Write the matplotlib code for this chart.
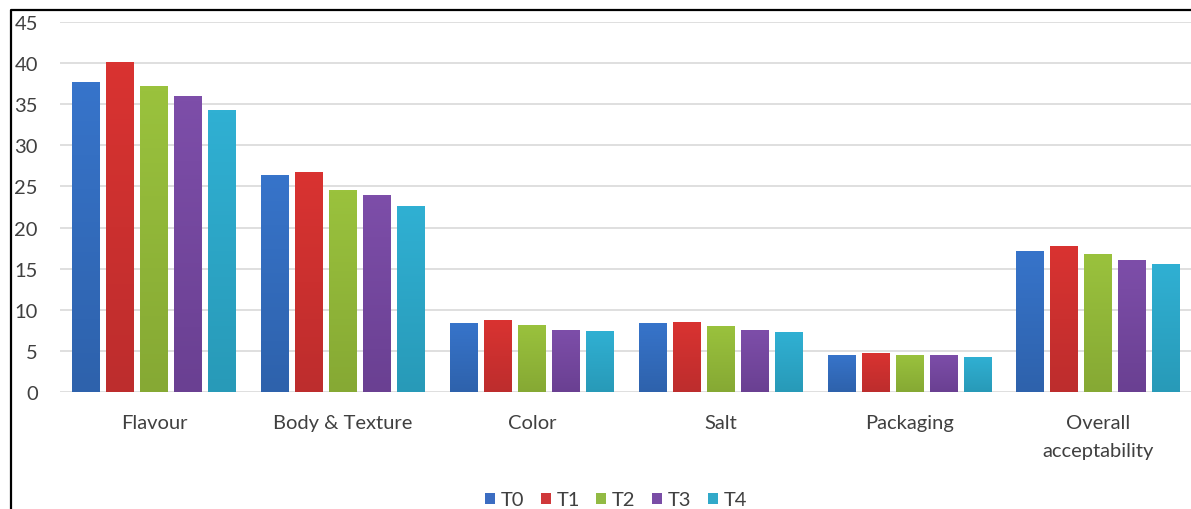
#!/usr/bin/env python3
"""Grouped bar chart of sensory scores per treatment (T0-T4)."""

import matplotlib

matplotlib.use("Agg")
import matplotlib.pyplot as plt
import numpy as np
from matplotlib.colors import LinearSegmentedColormap
from matplotlib.lines import Line2D
from matplotlib.patches import Patch


categories = ["Flavour", "Body & Texture", "Color", "Salt", "Packaging", "Overall\nacceptability"]
treatments = ["T0", "T1", "T2", "T3", "T4"]
t0 = [37.7, 26.4, 8.35, 8.35, 4.55, 17.2]
t1 = [40.1, 26.8, 8.75, 8.55, 4.8, 17.8]
t2 = [37.2, 24.6, 8.2, 8.05, 4.55, 16.8]
t3 = [36.0, 24.0, 7.5, 7.5, 4.55, 16.05]
t4 = [34.3, 22.6, 7.45, 7.25, 4.3, 15.6]
yticks = [0, 5, 10, 15, 20, 25, 30, 35, 40, 45]

series = [t0, t1, t2, t3, t4]
# (top colour, bottom colour) for a soft Excel-like gradient fill
fills = [
    ("#3774CA", "#2E62AC"),
    ("#D93331", "#BD2D2D"),
    ("#9AC23D", "#86A934"),
    ("#7D4EA9", "#6A4092"),
    ("#30B0D3", "#289AB8"),
]
legend_colors = ["#3B6DC2", "#D0383A", "#92BA44", "#7A4DA6", "#31A9C9"]

plt.rcParams["font.family"] = ["Lato", "DejaVu Sans"]

fig = plt.figure(figsize=(11.91, 5.10), dpi=100, facecolor="white")
ax = fig.add_axes([60 / 1191, 117 / 510, 1 - 60 / 1191, (487 - 117) / 510])

x = np.arange(len(categories))
step = 0.18
width = 0.148
grad = np.linspace(0, 1, 64).reshape(-1, 1)
for i, (values, (top, bottom)) in enumerate(zip(series, fills)):
    bars = ax.bar(x + (i - 2) * step, values, width, color=top, linewidth=0, zorder=2, label=treatments[i])
    cmap = LinearSegmentedColormap.from_list(f"g{i}", [bottom, top])
    for bar in bars:
        bx, by = bar.get_x(), bar.get_y()
        img = ax.imshow(
            grad,
            cmap=cmap,
            origin="lower",
            extent=(bx, bx + bar.get_width(), by, by + bar.get_height()),
            aspect="auto",
            zorder=3,
        )
        img.set_clip_path(bar)

ax.set_xlim(-0.498, 5.49)
ax.set_ylim(0, 45)
ax.set_yticks(yticks)
ax.set_xticks(x)
ax.set_xticklabels(categories, linespacing=1.75)
ax.tick_params(axis="both", length=0, labelsize=14.5, colors="#404040")
ax.tick_params(axis="y", pad=16)
ax.tick_params(axis="x", pad=16)
ax.yaxis.grid(True, color="#DCDCDC", linewidth=1.3, zorder=0)
ax.set_axisbelow(True)
for spine in ax.spines.values():
    spine.set_visible(False)

handles = [Patch(facecolor=c, edgecolor="none") for c in legend_colors]
fig.legend(
    handles,
    treatments,
    loc="center",
    bbox_to_anchor=(616 / 1191, 1 - 501 / 510),
    ncol=5,
    frameon=False,
    fontsize=14.5,
    handlelength=0.5,
    handleheight=0.5,
    handletextpad=0.3,
    columnspacing=0.8,
    labelcolor="#404040",
)

# black frame on the left and top edge of the picture
lx = 11 / 1191
ty = 1 - 10.7 / 510
fig.add_artist(Line2D([lx, lx, 1.0], [0.0, ty, ty], transform=fig.transFigure, color="black", linewidth=1.6))

fig.savefig("out.png", dpi=100, facecolor=fig.get_facecolor())
